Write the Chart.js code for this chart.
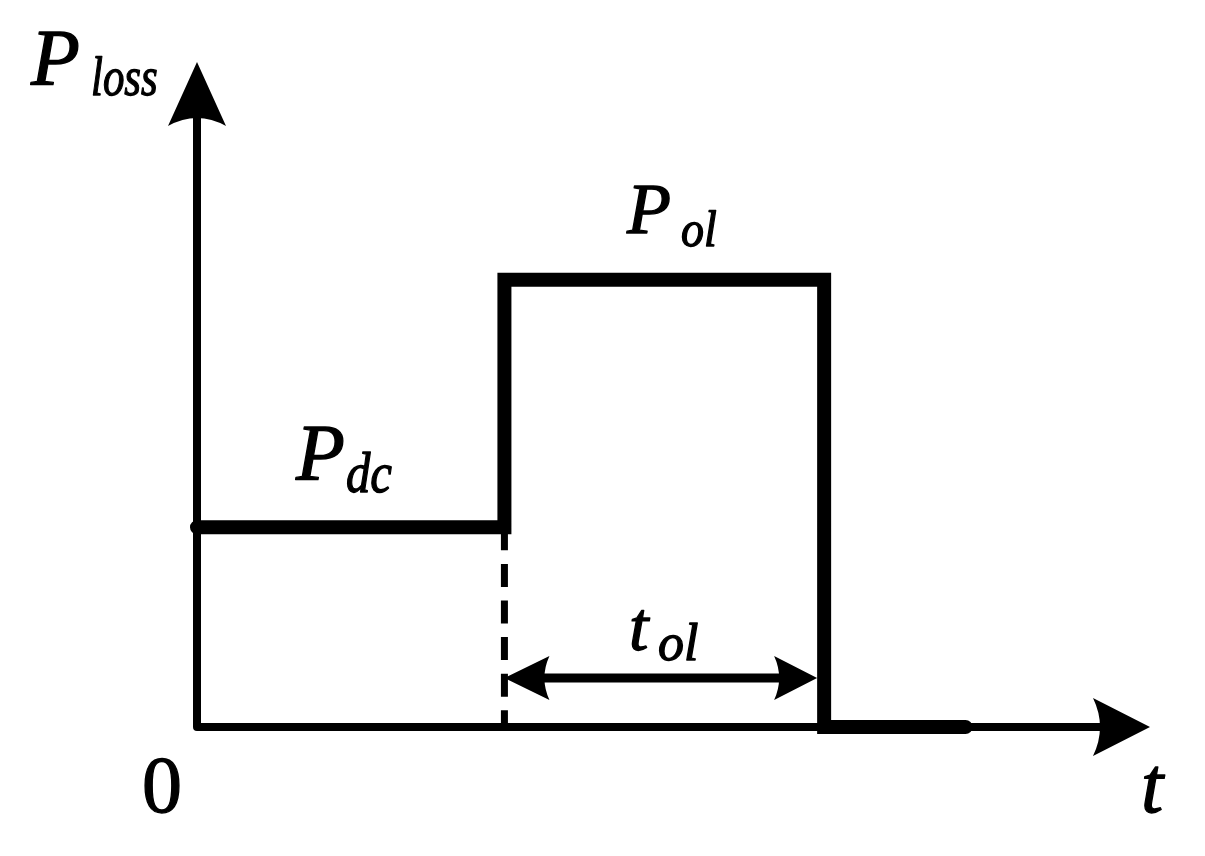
<!DOCTYPE html>
<html>
<head>
<meta charset="utf-8">
<script src="https://cdn.jsdelivr.net/npm/chart.js@4.4.1/dist/chart.umd.min.js"></script>
<style>
  html, body { margin: 0; padding: 0; background: #ffffff; }
  #wrap { width: 1205px; height: 856px; position: relative; }
</style>
</head>
<body>
<div id="wrap"><canvas id="c" width="1205" height="856"></canvas></div>
<script>
const stepTimes  = [0, 1, 1, 2.04, 2.04, 2.5];      // t
const stepLosses = [1, 1, 2.24, 2.24, 0, 0];        // P_loss
const dashTimes  = [1, 1];
const dashLosses = [1, 0];
const tolSpan    = [1, 2.04];                        // overload duration t_ol
const tolLevel   = 0.245;
const axisMaxT   = 3.1;
const axisMaxP   = 3.33;

const FONT = '"Liberation Serif", "Times New Roman", serif';

function arrowHead(ctx, tipX, tipY, dirX, dirY, len, half, notch) {
  const px = -dirY, py = dirX;
  const bx = tipX - dirX * len, by = tipY - dirY * len;
  const cx = tipX - dirX * (len - 2 * notch), cy = tipY - dirY * (len - 2 * notch);
  ctx.beginPath();
  ctx.moveTo(tipX, tipY);
  ctx.lineTo(bx + px * half, by + py * half);
  ctx.quadraticCurveTo(cx, cy, bx - px * half, by - py * half);
  ctx.closePath();
  ctx.fill();
}

function txt(ctx, s, font, x, y, sx) {
  ctx.save();
  ctx.font = font;
  ctx.translate(x, y);
  ctx.scale(sx || 1, 1);
  ctx.lineWidth = 1.3;
  ctx.fillText(s, 0, 0);
  ctx.strokeText(s, 0, 0);
  ctx.restore();
}

function subLabel(ctx, main, mainSize, mx, my, sub, subSize, sx, sy, subScale) {
  txt(ctx, main, 'italic ' + mainSize + 'px ' + FONT, mx, my, 1);
  txt(ctx, sub, 'italic ' + subSize + 'px ' + FONT, sx, sy, subScale);
}

const overlay = {
  id: 'overlay',
  afterDatasetsDraw(chart) {
    const ctx = chart.ctx;
    const xs = chart.scales.x, ys = chart.scales.y;
    const X = v => xs.getPixelForValue(v);
    const Y = v => ys.getPixelForValue(v);
    ctx.save();
    ctx.fillStyle = '#000';
    ctx.strokeStyle = '#000';

    // axes
    const x0 = X(0), y0 = Y(0);
    const xTip = X(axisMaxT), yTip = Y(axisMaxP);
    ctx.lineWidth = 8;
    ctx.lineJoin = 'round';
    ctx.lineCap = 'butt';
    ctx.beginPath();
    ctx.moveTo(x0, yTip + 52);
    ctx.lineTo(x0, y0);
    ctx.lineTo(xTip - 50, y0);
    ctx.stroke();
    arrowHead(ctx, x0, yTip, 0, -1, 64, 29, 8);
    arrowHead(ctx, xTip, y0, 1, 0, 57, 29, 7);

    // t_ol dimension arrow
    const ya = Y(tolLevel);
    const xl = X(tolSpan[0]), xr = X(tolSpan[1]) - 7;
    ctx.lineWidth = 9;
    ctx.beginPath();
    ctx.moveTo(xl + 30, ya);
    ctx.lineTo(xr - 30, ya);
    ctx.stroke();
    arrowHead(ctx, xl, ya, -1, 0, 45, 22, 5);
    arrowHead(ctx, xr, ya, 1, 0, 43, 22, 5);

    // labels
    ctx.textBaseline = 'alphabetic';
    ctx.textAlign = 'left';
    subLabel(ctx, 'P', 80, 31, 85, 'loss', 55, 91, 95, 0.78);
    subLabel(ctx, 'P', 80, 296, 480, 'dc', 56, 346, 492, 0.87);
    subLabel(ctx, 'P', 72, 627, 233, 'ol', 50, 681, 246, 0.92);
    subLabel(ctx, 't', 70, 629, 650, 'ol', 52, 658, 660, 1);
    txt(ctx, '0', '80px ' + FONT, 142, 812, 1);
    txt(ctx, 't', 'italic 80px ' + FONT, 1141, 812, 1);
    ctx.restore();
  }
};

new Chart(document.getElementById('c'), {
  type: 'scatter',
  data: {
    datasets: [
      {
        label: 'P_loss',
        data: stepTimes.map((t, i) => ({ x: t, y: stepLosses[i] })),
        showLine: true,
        borderColor: '#000',
        borderWidth: 14,
        borderJoinStyle: 'miter',
        borderCapStyle: 'round',
        pointRadius: 0,
        tension: 0,
        clip: false
      },
      {
        label: 'dash',
        data: dashTimes.map((t, i) => ({ x: t, y: dashLosses[i] })),
        showLine: true,
        borderColor: '#000',
        borderWidth: 7,
        borderDash: [23, 13.6],
        borderCapStyle: 'butt',
        pointRadius: 0,
        clip: false
      }
    ]
  },
  options: {
    responsive: false,
    animation: false,
    devicePixelRatio: 1,
    layout: { padding: { left: 197, right: 55, top: 62, bottom: 129 } },
    plugins: { legend: { display: false }, tooltip: { enabled: false } },
    scales: {
      x: { type: 'linear', min: 0, max: axisMaxT, display: false },
      y: { type: 'linear', min: 0, max: axisMaxP, display: false }
    }
  },
  plugins: [overlay]
});
</script>
</body>
</html>
